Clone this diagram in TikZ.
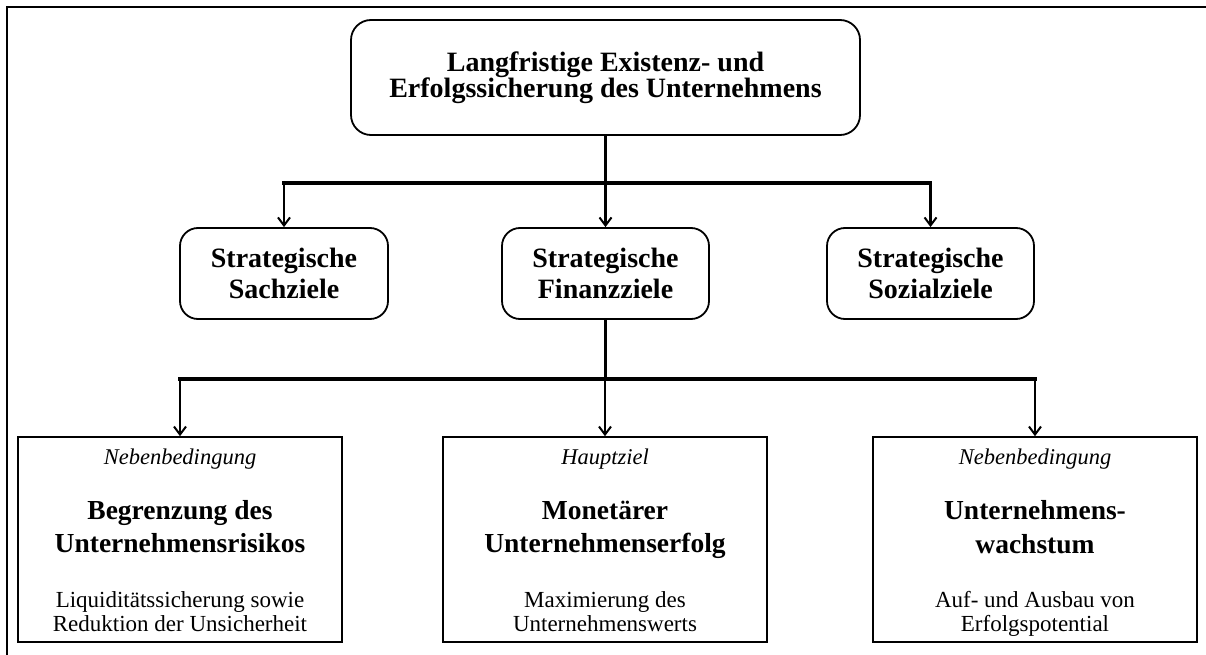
\documentclass[tikz,border=0pt]{standalone}
\usepackage{fontspec}
\setmainfont{Liberation Serif}
\usetikzlibrary{arrows.meta,calc}
\begin{document}
\begin{tikzpicture}[x=1pt,y=-1pt,
  rbox/.style={draw,rounded corners=18pt,line width=1.8pt,align=center,inner sep=0pt,font=\bfseries\fontsize{28}{31}\selectfont},
  sbox/.style={draw,line width=1.6pt,minimum width=324pt,minimum height=205pt,inner sep=0pt},
  itl/.style={anchor=base,inner sep=0pt,font=\itshape\fontsize{22.5}{25}\selectfont},
  btl/.style={anchor=base,inner sep=0pt,font=\bfseries\fontsize{27.5}{30}\selectfont},
  rtl/.style={anchor=base,inner sep=0pt,font=\fontsize{23}{25}\selectfont},
  stem/.style={line width=3.6pt},
  bar/.style={line width=3.4pt,line cap=rect},
  drop/.style={line width=2.6pt,-{Straight Barb[length=8pt,width=12pt,line width=2pt]}},
  frame/.style={line width=1.5pt}]
\useasboundingbox (0,0) rectangle (1206,655);
\draw[frame] (7,655) -- (7,7) -- (1206,7);

\node[rbox,minimum width=509pt,minimum height=115pt,rounded corners=20pt,font=\bfseries\fontsize{28}{26}\selectfont] (top) at (605.5,77.5) {Langfristige Existenz- und\\Erfolgssicherung des Unternehmens};

\node[rbox,minimum width=208pt,minimum height=91pt] (m1) at (284,273.5) {Strategische\\Sachziele};
\node[rbox,minimum width=207pt,minimum height=91pt] (m2) at (605.5,273.5) {Strategische\\Finanzziele};
\node[rbox,minimum width=207pt,minimum height=91pt] (m3) at (930.5,273.5) {Strategische\\Sozialziele};

\node[sbox] (b1) at (180,539.5) {};
\node[sbox] (b2) at (605,539.5) {};
\node[sbox] (b3) at (1035,539.5) {};

\node[itl] (b1i) at ($(b1.north)+(0,28)$) {Nebenbedingung};
\node[btl] (b1t1) at ($(b1.north)+(0,83)$) {Begrenzung des};
\node[btl] (b1t2) at ($(b1.north)+(0,116)$) {Unternehmensrisikos};
\node[rtl] (b1s1) at ($(b1.north)+(0,171)$) {Liquiditätssicherung sowie};
\node[rtl] (b1s2) at ($(b1.north)+(0,195)$) {Reduktion der Unsicherheit};

\node[itl] (b2i) at ($(b2.north)+(0,28)$) {Hauptziel};
\node[btl] (b2t1) at ($(b2.north)+(0,83)$) {Monetärer};
\node[btl] (b2t2) at ($(b2.north)+(0,116)$) {Unternehmenserfolg};
\node[rtl] (b2s1) at ($(b2.north)+(0,171)$) {Maximierung des};
\node[rtl] (b2s2) at ($(b2.north)+(0,195)$) {Unternehmenswerts};

\node[itl] (b3i) at ($(b3.north)+(0,28)$) {Nebenbedingung};
\node[btl] (b3t1) at ($(b3.north)+(0,83)$) {Unternehmens-};
\node[btl] (b3t2) at ($(b3.north)+(0,117)$) {wachstum};
\node[rtl] (b3s1) at ($(b3.north)+(0,171)$) {Auf- und Ausbau von};
\node[rtl] (b3s2) at ($(b3.north)+(0,195)$) {Erfolgspotential};

\coordinate (j1) at (605.5,183);
\coordinate (j2) at (605.5,379);
\draw[stem] (top.south) -- (j1);
\draw[bar] (m1.north |- j1) -- (m3.north |- j1);
\draw[drop] (m1.north |- j1) -- (m1.north);
\draw[drop] (m2.north |- j1) -- (m2.north);
\draw[drop] (m3.north |- j1) -- (m3.north);

\draw[stem] (m2.south) -- (j2);
\draw[bar] (b1.north |- j2) -- (b3.north |- j2);
\draw[drop] (b1.north |- j2) -- (b1.north);
\draw[drop] (b2.north |- j2) -- (b2.north);
\draw[drop] (b3.north |- j2) -- (b3.north);
\end{tikzpicture}
\end{document}
